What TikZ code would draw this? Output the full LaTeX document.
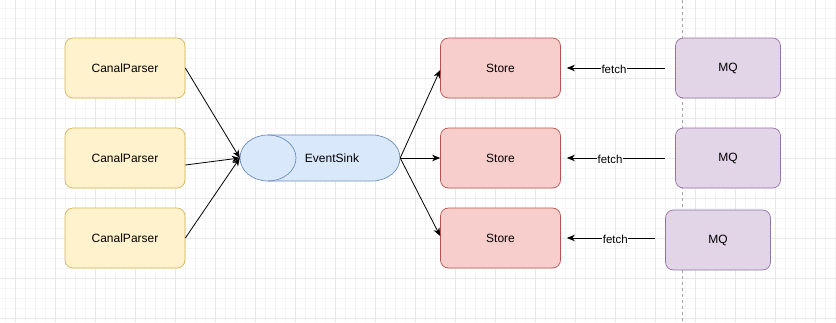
\documentclass[tikz,border=0pt]{standalone}
\usepackage{fontspec}
\setmainfont{Liberation Sans}
\usetikzlibrary{arrows.meta}
\definecolor{ylfill}{HTML}{FFF2CC}\definecolor{ylline}{HTML}{D6B656}
\definecolor{rdfill}{HTML}{F8CECC}\definecolor{rdline}{HTML}{B85450}
\definecolor{blfill}{HTML}{DAE8FC}\definecolor{blline}{HTML}{6C8EBF}
\definecolor{pufill}{HTML}{E1D5E7}\definecolor{puline}{HTML}{9673A6}
\definecolor{gridminor}{HTML}{F5F5F5}\definecolor{gridmajor}{HTML}{E8E8E8}
\begin{document}
\begin{tikzpicture}[x=1pt,y=-1pt,
  box/.style={rounded corners=8pt,minimum width=120pt,minimum height=60pt,line width=0.7pt,inner sep=0pt,font=\fontsize{12}{14}\selectfont},
  parser/.style={box,draw=ylline,fill=ylfill},
  storebox/.style={box,draw=rdline,fill=rdfill},
  mqbox/.style={box,draw=puline,fill=pufill,minimum width=105pt},
  conn/.style={line width=0.8pt,-{Stealth[length=8pt,width=6.5pt,inset=2.5pt]}},
  lbl/.style={fill=white,inner sep=0.5pt,yshift=-1.5pt,font=\fontsize{11.5}{13}\selectfont}]
\useasboundingbox (0,0) rectangle (836,322);
\fill[white] (0,0) rectangle (836,322);
% grid
\foreach \x in {5,15,...,835} \draw[gridminor,line width=0.5pt] (\x,0) -- (\x,322);
\foreach \y in {8,18,...,318} \draw[gridminor,line width=0.5pt] (0,\y) -- (836,\y);
\foreach \x in {15,55,...,835} \draw[gridmajor,line width=0.6pt] (\x,0) -- (\x,322);
\foreach \y in {38,78,...,318} \draw[gridmajor,line width=0.6pt] (0,\y) -- (836,\y);
\draw[gray!70,line width=0.6pt,dash pattern=on 3pt off 3pt] (682,0) -- (682,322);
% nodes
\node[parser] (p1) at (125,68) {CanalParser};
\node[parser] (p2) at (125,158) {CanalParser};
\node[parser] (p3) at (125,238) {CanalParser};
\node[storebox] (s1) at (500.5,68) {Store};
\node[storebox] (s2) at (500.5,158) {Store};
\node[storebox] (s3) at (500.5,238) {Store};
\node[mqbox] (m1) at (728,68) {MQ};
\node[mqbox] (m2) at (728,158) {MQ};
\node[mqbox] (m3) at (718,240) {MQ};
% event sink (horizontal cylinder)
\node[minimum width=160pt,minimum height=46pt,inner sep=0pt] (sink) at (320,158) {};
\draw[blline,fill=blfill,line width=0.7pt] (268,135) -- (372,135)
  arc[start angle=-90,end angle=90,x radius=28,y radius=23] -- (268,181)
  arc[start angle=90,end angle=270,x radius=28,y radius=23] -- cycle;
\draw[blline,line width=0.7pt] (268,135) arc[start angle=-90,end angle=90,x radius=28,y radius=23];
\node[font=\fontsize{12}{14}\selectfont] (sinktext) at (332,158) {EventSink};
% connectors
\draw[conn] (p1.east) -- (sink.west);
\draw[conn] ([yshift=-7pt]p2.east) -- (sink.west);
\draw[conn] (p3.east) -- (sink.west);
\draw[conn] (sink.east) -- ([yshift=-2pt]s1.west);
\draw[conn] (sink.east) -- (s2.west);
\draw[conn] (sink.east) -- ([yshift=2pt]s3.west);
\coordinate (f1) at (665,68);
\coordinate (f2) at (665,158);
\coordinate (f3) at (655,238);
\draw[conn] (f1) -- ([xshift=6pt]s1.east) node[lbl,pos=0.52] {fetch};
\draw[conn] (f2) -- ([xshift=6pt]s2.east) node[lbl,pos=0.56] {fetch};
\draw[conn] (f3) -- ([xshift=6pt]s3.east) node[lbl,pos=0.45] {fetch};
\end{tikzpicture}
\end{document}
